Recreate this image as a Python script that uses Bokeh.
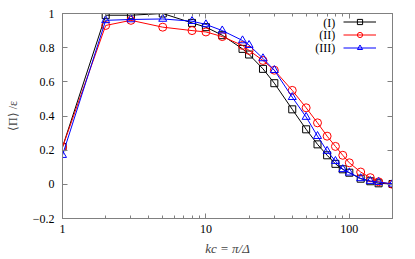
from bokeh.plotting import figure
from bokeh.models import (LogAxis, LinearAxis, FixedTicker, Range1d, Legend, LegendItem,
                          Label, CustomJSTickFormatter)
from bokeh.core.properties import value
from bokeh.embed import file_html
from bokeh.resources import INLINE

# ---- data ----
kc = [1, 2, 3, 5, 8, 10, 13, 18, 20, 25, 30, 40, 50, 60, 70, 80, 90, 100, 120, 140, 160, 200]
pi_I = [0.218, 0.99, 0.99, 1.0, 0.945, 0.92, 0.873, 0.793, 0.76, 0.676, 0.592, 0.439, 0.322,
        0.234, 0.17, 0.12, 0.088, 0.068, 0.033, 0.018, 0.006, 0.002]
pi_II = [0.218, 0.93, 0.96, 0.92, 0.90, 0.892, 0.865, 0.813, 0.784, 0.725, 0.668, 0.55, 0.448,
         0.36, 0.282, 0.222, 0.17, 0.126, 0.072, 0.039, 0.015, 0.0]
pi_III = [0.171, 0.96, 0.965, 0.968, 0.955, 0.936, 0.90, 0.842, 0.815, 0.737, 0.668, 0.51, 0.394,
          0.282, 0.195, 0.136, 0.088, 0.068, 0.035, 0.019, 0.013, 0.003]
series_names = ["(I)", "(II)", "(III)"]
x_major = [1, 10, 100]
x_minor = [2, 3, 4, 5, 6, 7, 8, 9, 20, 30, 40, 50, 60, 70, 80, 90, 200]
y_ticks = [-0.2, 0, 0.2, 0.4, 0.6, 0.8, 1.0]

FONT = "Liberation Serif"
GRAY = "#808080"

p = figure(width=415, height=259, x_axis_type="log",
           x_range=Range1d(1, 200), y_range=Range1d(-0.2, 1.0),
           output_backend="svg", toolbar_location=None,
           min_border_left=62, min_border_right=23, min_border_top=13, min_border_bottom=41)
p.xgrid.visible = False
p.ygrid.visible = False
p.outline_line_color = GRAY
p.outline_line_width = 1

xt = FixedTicker(ticks=x_major, minor_ticks=x_minor)
yt = FixedTicker(ticks=y_ticks, minor_ticks=[])
xfmt = CustomJSTickFormatter(code="return String(Math.round(tick));")
yfmt = CustomJSTickFormatter(code="""
const v = Math.round(tick*10)/10;
const s = (Math.abs(v) < 1e-9) ? '0' : String(v);
return s.replace('-', '\u2212');
""")
blank = CustomJSTickFormatter(code="return '';")

def style(ax):
    ax.axis_line_color = GRAY
    ax.major_tick_line_color = GRAY
    ax.minor_tick_line_color = GRAY
    ax.major_tick_in = 5
    ax.major_tick_out = 0
    ax.minor_tick_in = 3
    ax.minor_tick_out = 0
    ax.major_label_text_font = FONT
    ax.major_label_text_font_size = "12px"
    ax.major_label_text_color = "black"

p.xaxis.ticker = xt
p.xaxis.formatter = xfmt
p.yaxis.ticker = yt
p.yaxis.formatter = yfmt
for ax in p.xaxis + p.yaxis:
    style(ax)
p.xaxis.major_label_standoff = 6
p.yaxis.major_label_standoff = 8
p.yaxis.axis_label = "⟨Π⟩ /ε"
p.yaxis.axis_label_text_font = FONT
p.yaxis.axis_label_text_font_size = "12px"
p.yaxis.axis_label_text_font_style = "normal"
p.yaxis.axis_label_standoff = 10
p.xaxis.axis_label = "kc = π/Δ"
p.xaxis.axis_label_text_font = FONT
p.xaxis.axis_label_text_font_size = "13px"
p.xaxis.axis_label_text_font_style = "italic"
p.xaxis.axis_label_standoff = 5

top = LogAxis(ticker=xt, formatter=blank)
style(top)
top.major_label_standoff = 0
p.add_layout(top, "above")
right = LinearAxis(ticker=yt, formatter=blank)
style(right)
right.major_label_standoff = 0
p.add_layout(right, "right")

# ---- series ----
l1 = p.line(kc, pi_I, line_color="black", line_width=1)
m1 = p.scatter(kc, pi_I, marker="square", size=7, fill_color=None, line_color="black", line_width=1)
l2 = p.line(kc, pi_II, line_color="red", line_width=1)
m2 = p.scatter(kc, pi_II, marker="circle", size=8, fill_color=None, line_color="red", line_width=1)
l3 = p.line(kc, pi_III, line_color="blue", line_width=1)
m3 = p.scatter(kc, pi_III, marker="triangle", size=8, fill_color=None, line_color="blue", line_width=1)

legend = Legend(items=[LegendItem(label=value(""), renderers=[l1, m1]),
                       LegendItem(label=value(""), renderers=[l2, m2]),
                       LegendItem(label=value(""), renderers=[l3, m3])],
                location=(281, 164), orientation="vertical",
                padding=0, margin=0, spacing=0, glyph_width=33, glyph_height=13,
                label_width=0, label_standoff=0, label_text_font_size="12px",
                border_line_color=None, background_fill_color=None)
p.add_layout(legend)

for name, yv in zip(series_names, [0.947, 0.875, 0.799]):
    p.add_layout(Label(x=79.8, y=yv, text=name, text_align="right", text_baseline="middle",
                       text_font=FONT, text_font_size="12px", text_color="black"))

open("out.html", "w").write(file_html(p, INLINE))
